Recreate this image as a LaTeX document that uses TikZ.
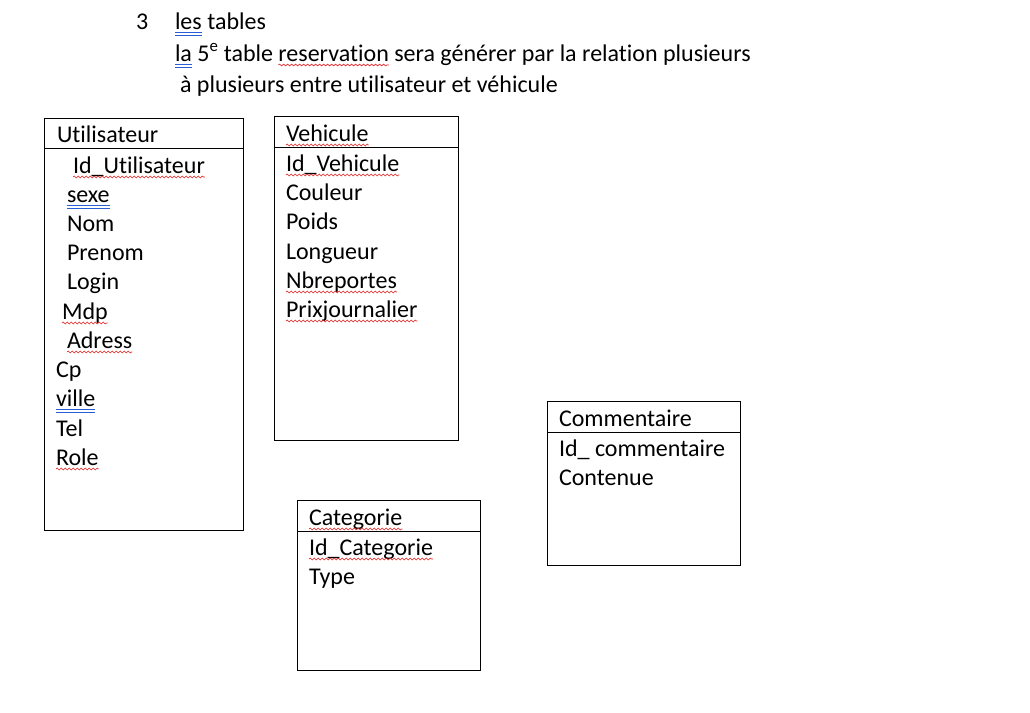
\documentclass[tikz,border=0pt]{standalone}
\usepackage{fontspec}
\setmainfont{Carlito}[Ligatures={NoCommon}]
\usetikzlibrary{decorations.pathmorphing}
\definecolor{spellred}{RGB}{230,30,30}
\definecolor{gramblue}{RGB}{40,95,215}
\tikzset{
  txt/.style={anchor=base west, inner sep=0pt, outer sep=0pt, font=\fontsize{24}{29}\selectfont},
  tablebox/.style={draw=black, line width=0.9pt, anchor=north west, inner sep=0pt},
  sepline/.style={draw=black, line width=0.9pt},
  wavy/.style={draw=spellred, line width=0.6pt, decorate, decoration={snake, amplitude=0.9pt, segment length=4pt}},
  dblblue/.style={draw=gramblue, line width=0.7pt}
}
\newcommand{\wavyunder}[1]{\draw[wavy] ([yshift=-4pt]#1.base west) -- ([yshift=-4pt]#1.base east);}
\newcommand{\dblunder}[1]{\draw[dblblue] ([yshift=-3pt]#1.base west) -- ([yshift=-3pt]#1.base east);
  \draw[dblblue] ([yshift=-6pt]#1.base west) -- ([yshift=-6pt]#1.base east);}
\begin{document}
\begin{tikzpicture}[x=1pt,y=-1pt]
\useasboundingbox[fill=white] (0,0) rectangle (1030,712);

% heading
\node[txt] (num) at (136,29) {3};
\node[txt] (les) at (175,29) {les};
\node[txt] (tables) at (les.base east) {\ tables};
\node[txt] (la) at (175,61) {la};
\node[txt] (l2a) at (la.base east) {\ 5\textsuperscript{e} table};
\node[txt] (resa) at ([xshift=5.2pt]l2a.base east) {reservation};
\node[txt] (l2b) at (resa.base east) {\ sera générer par la relation plusieurs};
\node[txt] (l3) at (180,92) {à plusieurs entre utilisateur et véhicule};
\dblunder{les}
\dblunder{la}
\wavyunder{resa}

% Utilisateur
\node[tablebox, minimum width=199pt, minimum height=412pt] (util) at (44,118) {};
\draw[sepline] (44,148) coordinate (u1) -- (243,148) coordinate (u2);
\node[txt] (uh) at (57,142) {Utilisateur};
\node[txt] (u01) at (73,173) {Id\_Utilisateur};
\node[txt] (u02) at (67,202) {sexe};
\node[txt] (u03) at (67,231) {Nom};
\node[txt] (u04) at (67,260) {Prenom};
\node[txt] (u05) at (67,289) {Login};
\node[txt] (u06) at (62,319) {Mdp};
\node[txt] (u07) at (67,348) {Adress};
\node[txt] (u08) at (56,377) {Cp};
\node[txt] (u09) at (56,406) {ville};
\node[txt] (u10) at (56,436) {Tel};
\node[txt] (u11) at (56,465) {Role};
\wavyunder{u01}
\dblunder{u02}
\wavyunder{u06}
\wavyunder{u07}
\dblunder{u09}
\wavyunder{u11}

% Vehicule
\node[tablebox, minimum width=184pt, minimum height=324pt] (veh) at (274,116) {};
\draw[sepline] (274,147) coordinate (v1) -- (458,147) coordinate (v2);
\node[txt] (vh) at (286,141) {Vehicule};
\node[txt] (v01) at (286,171) {Id\_Vehicule};
\node[txt] (v02) at (286,200) {Couleur};
\node[txt] (v03) at (286,229) {Poids};
\node[txt] (v04) at (286,259) {Longueur};
\node[txt] (v05) at (286,288) {Nbreportes};
\node[txt] (v06) at (286,317) {Prixjournalier};
\wavyunder{vh}
\wavyunder{v01}
\wavyunder{v05}
\wavyunder{v06}

% Commentaire
\node[tablebox, minimum width=193pt, minimum height=164pt] (com) at (547,401) {};
\draw[sepline] (547,432) coordinate (c1) -- (740,432) coordinate (c2);
\node[txt] (ch) at (559,426) {Commentaire};
\node[txt] (c01) at (559,456) {Id\_ commentaire};
\node[txt] (c02) at (559,485) {Contenue};

% Categorie
\node[tablebox, minimum width=183pt, minimum height=170pt] (cat) at (297,500) {};
\draw[sepline] (297,531) coordinate (k1) -- (480,531) coordinate (k2);
\node[txt] (kh) at (309,525) {Categorie};
\node[txt] (k01) at (309,555) {Id\_Categorie};
\node[txt] (k02) at (309,584) {Type};
\wavyunder{kh}
\wavyunder{k01}
\end{tikzpicture}
\end{document}
